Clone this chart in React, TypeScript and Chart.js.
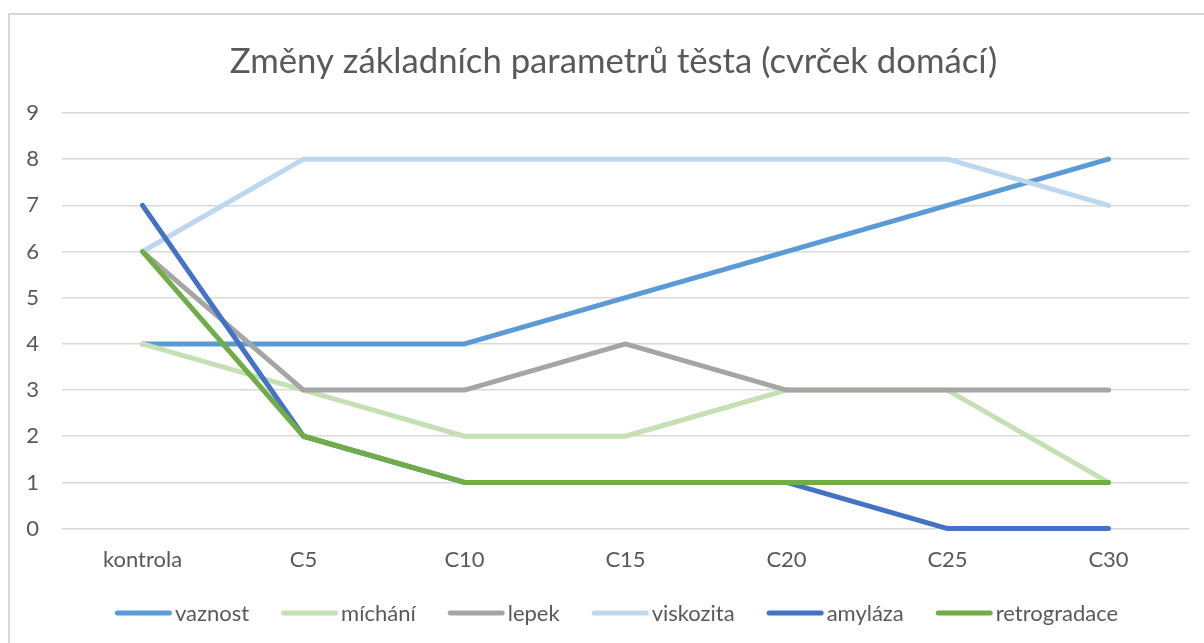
import { useEffect, useRef } from "react";
import { Chart, registerables } from "chart.js";

Chart.register(...registerables);

const categories = ["kontrola", "C5", "C10", "C15", "C20", "C25", "C30"];
const seriesNames = ["vaznost", "míchání", "lepek", "viskozita", "amyláza", "retrogradace"];
const vaznost = [4, 4, 4, 5, 6, 7, 8];
const michani = [4, 3, 2, 2, 3, 3, 1];
const lepek = [6, 3, 3, 4, 3, 3, 3];
const viskozita = [6, 8, 8, 8, 8, 8, 7];
const amylaza = [7, 2, 1, 1, 1, 0, 0];
const retrogradace = [6, 2, 1, 1, 1, 1, 1];
const seriesValues = [vaznost, michani, lepek, viskozita, amylaza, retrogradace];
const seriesColors = ["#5B9BD5", "#C5E0B4", "#A5A5A5", "#BDD7EE", "#4472C4", "#70AD47"];
const titleText = "Změny základních parametrů těsta (cvrček domácí)";

const FONT = "Lato, 'Open Sans', sans-serif";
const TEXT = "#595959";

const decorPlugin = {
  id: "decor",
  beforeDraw(chart: any) {
    const ctx = chart.ctx;
    ctx.save();
    ctx.fillStyle = "#FFFFFF";
    ctx.fillRect(0, 0, chart.width, chart.height);
    ctx.strokeStyle = "#D9D9D9";
    ctx.lineWidth = 2;
    ctx.beginPath();
    ctx.moveTo(9, chart.height + 2);
    ctx.lineTo(9, 14);
    ctx.lineTo(chart.width + 2, 14);
    ctx.stroke();
    ctx.restore();
  },
  afterDraw(chart: any) {
    const ctx = chart.ctx;
    ctx.save();
    // title
    ctx.fillStyle = TEXT;
    ctx.font = `34.7px ${FONT}`;
    ctx.textAlign = "center";
    ctx.textBaseline = "middle";
    ctx.fillText(titleText, 613.5, 62);
    // legend
    ctx.font = `22px ${FONT}`;
    const lineW = 57;
    const gap = 3;
    const itemGap = 32;
    const ds = chart.data.datasets;
    const widths = ds.map((d: any) => lineW + gap + ctx.measureText(d.label).width);
    const total = widths.reduce((a: number, b: number) => a + b, 0) + itemGap * (ds.length - 1);
    let x = 616.5 - total / 2;
    const y = 613;
    ctx.textAlign = "left";
    ds.forEach((d: any, i: number) => {
      ctx.strokeStyle = d.borderColor;
      ctx.lineWidth = 5;
      ctx.lineCap = "round";
      ctx.beginPath();
      ctx.moveTo(x + 2.5, y);
      ctx.lineTo(x + lineW - 2.5, y);
      ctx.stroke();
      ctx.fillStyle = TEXT;
      ctx.fillText(d.label, x + lineW + gap, y + 1);
      x += widths[i] + itemGap;
    });
    ctx.restore();
  },
};

export default function App() {
  const ref = useRef<HTMLCanvasElement | null>(null);
  useEffect(() => {
    document.body.style.margin = "0";
    if (!ref.current) return;
    const chart = new Chart(ref.current, {
      type: "line",
      data: {
        labels: categories,
        datasets: seriesNames.map((name, i) => ({
          label: name,
          data: seriesValues[i],
          borderColor: seriesColors[i],
          backgroundColor: seriesColors[i],
          borderWidth: 5,
          borderCapStyle: "round" as const,
          borderJoinStyle: "round" as const,
          pointRadius: 0,
          pointHoverRadius: 0,
          tension: 0,
          fill: false,
          clip: false as any,
          order: seriesNames.length - i,
        })),
      },
      options: {
        animation: false,
        responsive: false,
        maintainAspectRatio: false,
        layout: { padding: { top: 113, bottom: 52, left: 0, right: 15 } },
        plugins: {
          legend: { display: false },
          title: { display: false },
          tooltip: { enabled: false },
        },
        scales: {
          x: {
            type: "category",
            offset: true,
            grid: { display: false, drawTicks: false },
            border: { display: false },
            ticks: { color: TEXT, font: { family: FONT, size: 22 }, padding: 18, maxRotation: 0 },
          },
          y: {
            min: 0,
            max: 9,
            afterFit: (s: any) => {
              s.width = 62;
            },
            grid: { color: "#D9D9D9", lineWidth: 1.5, drawTicks: false },
            border: { display: false },
            ticks: { stepSize: 1, color: TEXT, font: { family: FONT, size: 22 }, padding: 23 },
          },
        },
      },
      plugins: [decorPlugin],
    });
    return () => chart.destroy();
  }, []);
  return (
    <div style={{ position: "relative", width: 1204, height: 643 }}>
      <canvas ref={ref} width={1204} height={643} style={{ display: "block" }} />
    </div>
  );
}
